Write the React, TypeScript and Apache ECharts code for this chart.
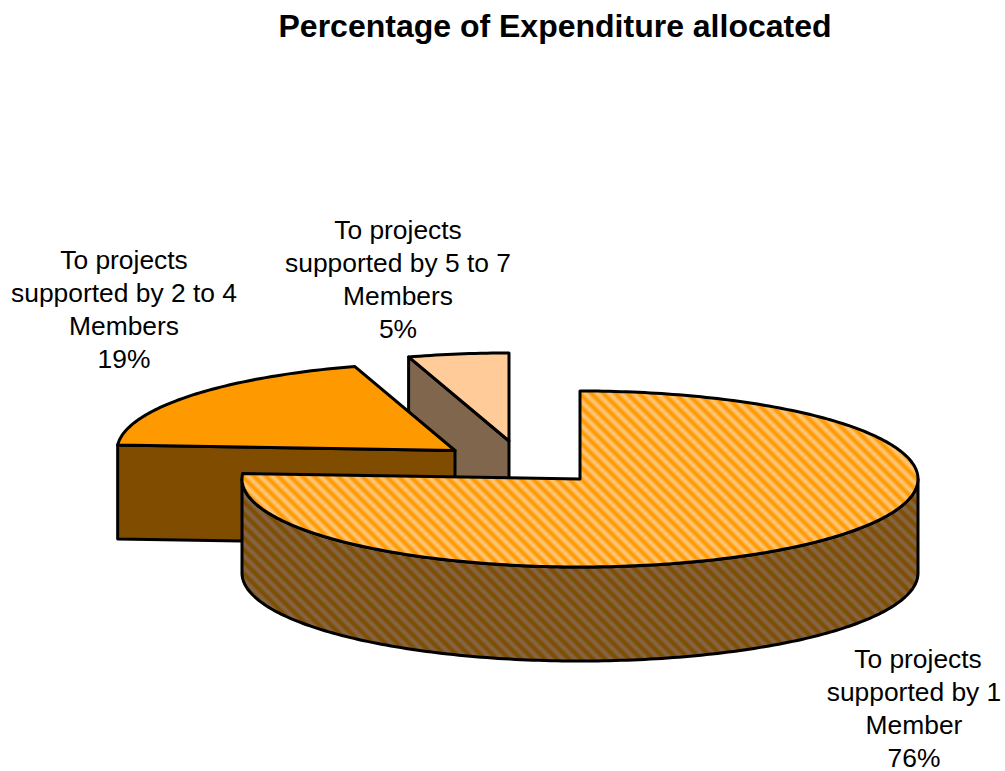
import React, { useEffect, useRef } from "react";
import * as echarts from "echarts";

const titleText = "Percentage of Expenditure allocated";
const categories = [
  "To projects\nsupported by 1\nMember",
  "To projects\nsupported by 2 to 4\nMembers",
  "To projects\nsupported by 5 to 7\nMembers",
];
const values = [76, 19.2, 4.8];

// layout of the tilted pie
const RX = 338;
const RY = 88;
const DEPTH = 94;
const LINE_HEIGHT = 33;
const centers = [[580, 479], [455, 450.5], [509, 441]];
const labelAnchors = [[914, 708], [124, 309.5], [398, 279.5]];
const firstLineNudge = [4, 0, 0];
const topColors = ["#FF9900", "#FF9900", "#FFCC99"];
const sideColors = ["#7F4C00", "#7F4C00", "#80664C"];
const stripeColors: number[][][] = [
  [[255, 153, 0], [255, 198, 120]],
  [[127, 76, 0], [132, 102, 72]],
];

function stripes(a: number[], b: number[]) {
  const size = 12;
  const c = document.createElement("canvas");
  c.width = size;
  c.height = size;
  const g = c.getContext("2d")!;
  for (let y = 0; y < size; y++) {
    for (let x = 0; x < size; x++) {
      const m = 0.5 + 0.5 * Math.cos((2 * Math.PI * (x - y)) / size);
      const mix = a.map((v, k) => Math.round(v + (b[k] - v) * m));
      g.fillStyle = `rgb(${mix[0]},${mix[1]},${mix[2]})`;
      g.fillRect(x, y, 1, 1);
    }
  }
  return { type: "pattern", image: c, repeat: "repeat" } as any;
}

const total = values.reduce((s, v) => s + v, 0);
const cumulative = values.map((_, i) => values.slice(0, i).reduce((s, v) => s + v, 0));
const rad = (d: number) => (d * Math.PI) / 180;

function rim(cx: number, cy: number, from: number, to: number, dy = 0) {
  const pts: number[][] = [];
  const n = Math.max(2, Math.ceil(Math.abs(to - from)));
  for (let i = 0; i <= n; i++) {
    const a = rad(from + ((to - from) * i) / n);
    pts.push([cx + RX * Math.sin(a), cy - RY * Math.cos(a) + dy]);
  }
  return pts;
}

export default function App() {
  const ref = useRef<HTMLDivElement>(null);
  useEffect(() => {
    const chart = echarts.init(ref.current!, undefined, { renderer: "svg" });
    const line = { stroke: "#000", lineWidth: 3, lineJoin: "round" };
    const topHatch = stripes(stripeColors[0][0], stripeColors[0][1]);
    const sideHatch = stripes(stripeColors[1][0], stripeColors[1][1]);

    const renderItem = (_: any, api: any) => {
      const i = api.value(0) as number;
      const value = api.value(1) as number;
      const [cx, cy] = centers[i];
      const start = (cumulative[i] / total) * 360;
      const end = start + (value / total) * 360;
      const topFill = i === 0 ? topHatch : topColors[i];
      const sideFill = i === 0 ? sideHatch : sideColors[i];
      const children: any[] = [];
      const face = (a: number) => {
        const p = rim(cx, cy, a, a)[0];
        children.push({
          type: "polygon",
          shape: { points: [[cx, cy], p, [p[0], p[1] + DEPTH], [cx, cy + DEPTH]] },
          style: { fill: sideFill, ...line },
        });
      };
      if (Math.sin(rad(start)) < -1e-6) face(start);
      if (Math.sin(rad(end)) > 1e-6) face(end);
      const wallFrom = Math.max(start, 90);
      const wallTo = Math.min(end, 270);
      if (wallTo > wallFrom) {
        const upper = rim(cx, cy, wallFrom, wallTo);
        const lower = rim(cx, cy, wallTo, wallFrom, DEPTH);
        children.push({
          type: "polygon",
          shape: { points: [...upper, ...lower] },
          style: { fill: sideFill, ...line },
        });
      }
      children.push({
        type: "polygon",
        shape: { points: [[cx, cy], ...rim(cx, cy, start, end)] },
        style: { fill: topFill, ...line },
      });
      const lines = [...categories[i].split("\n"), `${Math.round(value)}%`];
      lines.forEach((text, k) => {
        children.push({
          type: "text",
          x: labelAnchors[i][0] + (k === 0 ? firstLineNudge[i] : 0),
          y: labelAnchors[i][1] + (k - (lines.length - 1) / 2) * LINE_HEIGHT,
          style: {
            text,
            fill: "#000",
            font: '26.4px "Liberation Sans", Arial, sans-serif',
            align: "center",
            verticalAlign: "middle",
          },
        });
      });
      return { type: "group", children };
    };

    chart.setOption({
      animation: false,
      backgroundColor: "#fff",
      title: {
        text: titleText,
        left: 550,
        top: 5,
        textAlign: "center",
        textStyle: {
          color: "#000",
          fontFamily: '"Liberation Sans", Arial, sans-serif',
          fontWeight: "bold",
          fontSize: 32,
        },
      },
      series: [
        {
          type: "custom",
          coordinateSystem: "none",
          renderItem,
          silent: true,
          clip: false,
          // painted back to front
          data: values.map((v, i) => [i, v]).reverse(),
        },
      ],
    });
    return () => chart.dispose();
  }, []);
  return (
    <div
      ref={ref}
      style={{ position: "absolute", left: 0, top: 0, width: 1005, height: 771 }}
    />
  );
}
